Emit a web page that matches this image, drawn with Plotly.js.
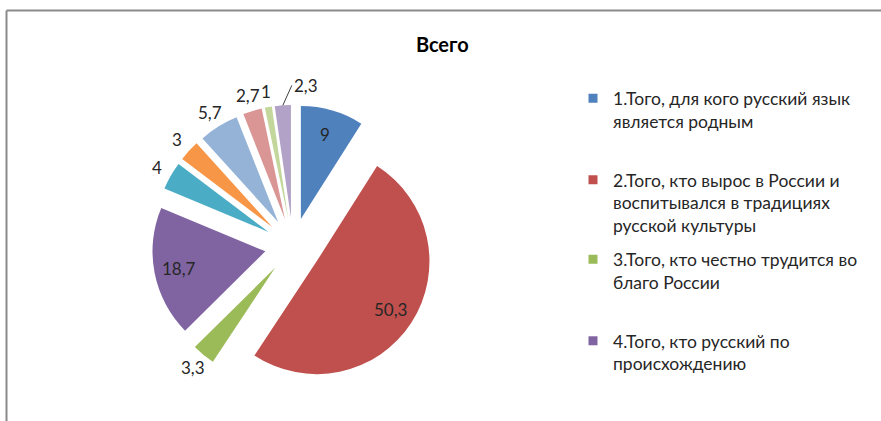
<!DOCTYPE html>
<html>
<head>
<meta charset="utf-8">
<script src="https://cdn.plot.ly/plotly-3.0.1.min.js"></script>
<style>html,body{margin:0;padding:0;background:#fff;}#chart{width:881px;height:421px;}</style>
</head>
<body>
<div id="chart"></div>
<script>
// Data
var categories = [
  "1.Того, для кого русский язык<br>является родным",
  "2.Того, кто вырос в России и<br>воспитывался в традициях<br>русской культуры",
  "3.Того, кто честно трудится во<br>благо России",
  "4.Того, кто русский по<br>происхождению",
  "5", "6", "7", "8", "9", "10"
];
var values = [9, 50.3, 3.3, 18.7, 4, 3, 5.7, 2.7, 1, 2.3];
var colors = ["#4F81BD", "#C0504D", "#9BBB59", "#8064A2", "#4BACC6",
              "#F79646", "#95B3D7", "#D99694", "#C3D69B", "#B3A2C7"];
var labelInside = [true, true, false, true, false, false, false, false, false, false];
var leaderLabel = [false, false, false, false, false, false, false, false, false, true];
var legendCount = 4;          // only the first four entries are shown
var legendTops = [0.8090, 0.6155, 0.4265, 0.2330];

var FONT = "Lato, 'Open Sans', 'DejaVu Sans', sans-serif";
var W = 881, H = 421;
var PULL = 0.25;
var dom = {x0: 152, x1: 434, y0: 105, y1: 387};   // pie domain in pixels

var traces = [{
  type: "pie",
  labels: categories,
  values: values,
  sort: false,
  direction: "clockwise",
  rotation: 0,
  pull: PULL,
  marker: {colors: colors, line: {width: 0}},
  textinfo: "none",
  showlegend: false,
  hoverinfo: "label+value",
  domain: {x: [dom.x0 / W, dom.x1 / W], y: [1 - dom.y1 / H, 1 - dom.y0 / H]}
}];

for (var i = 0; i < legendCount; i++) {
  traces.push({
    type: "scatter",
    mode: "markers",
    x: [null], y: [null],
    name: categories[i],
    marker: {symbol: "square", size: 9, color: colors[i]},
    legend: i === 0 ? "legend" : "legend" + (i + 1),
    showlegend: true,
    hoverinfo: "skip"
  });
}

// Data labels: positions derived from the values and the pie geometry
var cx = (dom.x0 + dom.x1) / 2, cy = (dom.y0 + dom.y1) / 2;
var r = Math.min(dom.x1 - dom.x0, dom.y1 - dom.y0) / (2 * (1 + PULL));
var total = values.reduce(function (a, b) { return a + b; }, 0);
var annotations = [];
var cum = 0;
for (var k = 0; k < values.length; k++) {
  var mid = (cum + values[k] / 2) / total * 2 * Math.PI;
  cum += values[k];
  var sx = Math.sin(mid), sy = -Math.cos(mid);
  var txt = String(values[k]).replace(".", ",");
  var px, py;
  if (labelInside[k]) {
    px = cx + sx * (PULL * r + 0.78 * r);
    py = cy + sy * (PULL * r + 0.78 * r);
  } else {
    px = cx + sx * (r * (1 + PULL) + 16);
    py = cy + sy * (r * (1 + PULL) + 16);
  }
  var ann = {
    xref: "paper", yref: "paper",
    x: px / W, y: 1 - py / H,
    text: txt, showarrow: false,
    xanchor: "center", yanchor: "middle",
    font: {family: FONT, size: 17, color: "#262626"}
  };
  if (leaderLabel[k]) {
    var ex = cx + sx * r * (1 + PULL), ey = cy + sy * r * (1 + PULL);
    ann.x = ex / W; ann.y = 1 - ey / H;
    ann.showarrow = true; ann.arrowhead = 0; ann.arrowwidth = 1;
    ann.arrowcolor = "#404040";
    ann.ax = 9; ann.ay = -20; ann.xanchor = "left";
  }
  annotations.push(ann);
}

var layout = {
  width: W, height: H,
  margin: {l: 0, r: 0, t: 0, b: 0},
  paper_bgcolor: "#ffffff",
  plot_bgcolor: "rgba(0,0,0,0)",
  separators: ", ",
  font: {family: FONT, color: "#262626"},
  title: {
    text: "<b>Всего</b>",
    font: {family: FONT, size: 20, color: "#000000"},
    x: 0.502, xanchor: "center",
    yref: "container", y: 1 - 45 / H, yanchor: "middle"
  },
  xaxis: {visible: false},
  yaxis: {visible: false},
  annotations: annotations,
  shapes: [
    {type: "line", xref: "paper", yref: "paper", x0: 6.5 / W, x1: 1, y0: 1 - 10.5 / H, y1: 1 - 10.5 / H,
     line: {color: "#8a8a8a", width: 2}},
    {type: "line", xref: "paper", yref: "paper", x0: 6.5 / W, x1: 6.5 / W, y0: 0, y1: 1 - 10.5 / H,
     line: {color: "#8a8a8a", width: 2}}
  ]
};

for (var j = 0; j < legendCount; j++) {
  var key = j === 0 ? "legend" : "legend" + (j + 1);
  layout[key] = {
    x: 573 / W, xanchor: "left",
    y: legendTops[j], yanchor: "top",
    valign: "top",
    bgcolor: "rgba(0,0,0,0)",
    font: {family: FONT, size: 17.5, color: "#262626"},
    itemclick: false, itemdoubleclick: false
  };
}

Plotly.newPlot("chart", traces, layout, {displayModeBar: false, staticPlot: true});
</script>
</body>
</html>
